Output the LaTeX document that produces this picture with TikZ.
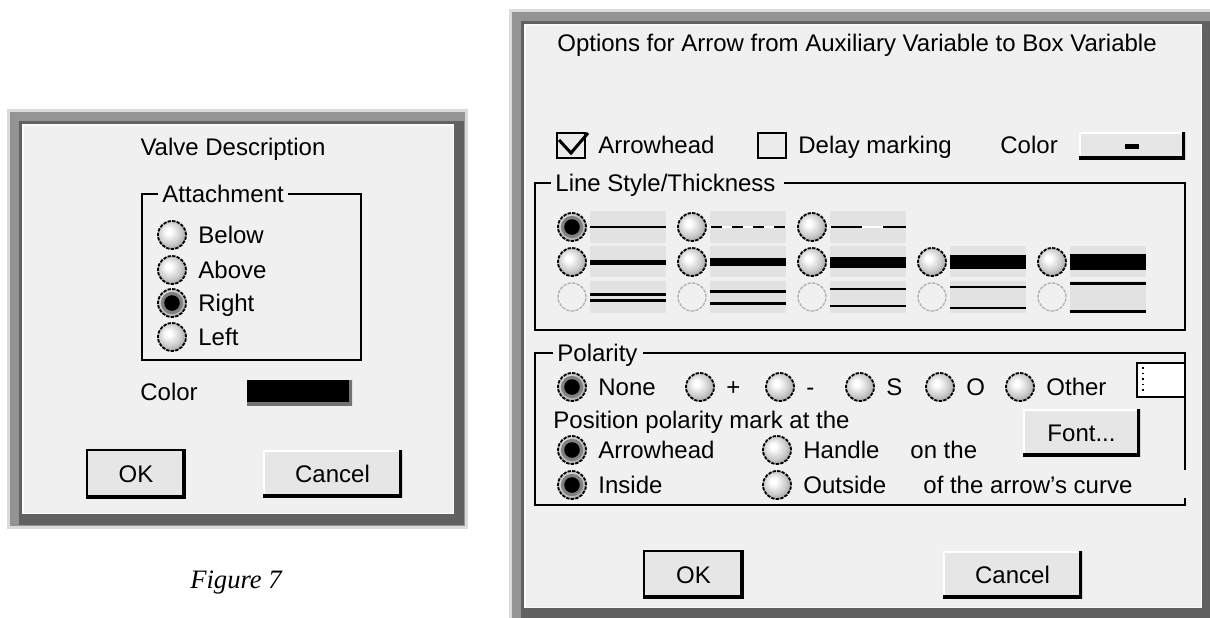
\documentclass[tikz,border=0pt]{standalone}
\usepackage{fontspec}
\setmainfont{Liberation Sans}
\newfontfamily\figfont{Liberation Serif}
\usetikzlibrary{calc,shadings}

\definecolor{dlgbg}{HTML}{F0F0F0}
\definecolor{swatchbg}{HTML}{E2E2E2}
\definecolor{btnbg}{HTML}{E6E6E6}

% light radio knob, brightest at the upper left
\pgfdeclareradialshading{radioknob}{\pgfpoint{-7bp}{7bp}}{color(0bp)=(white); color(5bp)=(white); color(20bp)=(black!20); color(32bp)=(black!42); color(50bp)=(black!42)}

% dialog window: light face inside a soft grey frame
\def\dialog(#1,#2)(#3,#4){%
	\fill[black!14] (#1-3,#2-3) rectangle (#3+3,#4+3);
	\fill[black!42] (#1,#2) rectangle (#3,#4);
	\fill[black!62] (#1+9,#2+9) rectangle (#3-1,#4-1);
	\fill[white!70!dlgbg] (#1+12,#2+12) rectangle (#3-11,#4-12);
	\fill[dlgbg] (#1+14,#2+14) rectangle (#3-12,#4-13);}

% radio button with its label on the right
\def\radiobtn(#1,#2)#3#4#5{%
	\node[#4] (r#3) at (#1,#2) {};
	\node[lbl] (t#3) at (#1+26,#2) {#5};}

\tikzset{
	txt/.style={inner sep=0pt, text height=8.6pt, text depth=0pt, font=\fontsize{12}{14}\selectfont},
	lbl/.style={txt, anchor=west},
	grp/.style={line width=1pt, black},
	radio/.style={circle, inner sep=0pt, minimum size=14pt, shading=radioknob, draw=black, line width=0.9pt, dash pattern=on 1.7pt off 0.6pt},
	radioon/.style={radio, path picture={
		\fill[black!50] (path picture bounding box.center) circle (5.6pt);
		\fill[black] (path picture bounding box.center) circle (3.9pt);}},
	radiodim/.style={circle, inner sep=0pt, minimum size=14pt, fill=black!6, draw=black!30, line width=0.7pt, dash pattern=on 1.7pt off 0.6pt},
	btn/.style={txt, rectangle, fill=btnbg, path picture={
		\draw[white, line width=2pt] (path picture bounding box.south west) -- (path picture bounding box.north west) -- (path picture bounding box.north east);
		\draw[black, line width=3pt] (path picture bounding box.south west) -- (path picture bounding box.south east) -- (path picture bounding box.north east);}},
	okbtn/.style={txt, rectangle, fill=btnbg, draw=black, line width=1.2pt, path picture={
		\draw[black, line width=3.2pt] (path picture bounding box.south west) -- (path picture bounding box.south east) -- (path picture bounding box.north east);}},
	swatch/.style={rectangle, inner sep=0pt, fill=black, path picture={
		\draw[black!55, line width=3pt] (path picture bounding box.south west) -- (path picture bounding box.south east) -- (path picture bounding box.north east);}},
	chkbox/.style={rectangle, inner sep=0pt, minimum width=14pt, minimum height=12.5pt, fill=black!8, draw=black, line width=1pt},
}

\begin{document}
\begin{tikzpicture}[x=0.5pt, y=-0.5pt]
	%%%%% START %%%%%
	\useasboundingbox (0,0) rectangle (1210,617);
	\fill[white] (0,0) rectangle (1210,617);
	
	% valve dialog
	\dialog(10,112)(465,526)
	\node[txt] (valvetitle) at (233,147) {Valve Description};
	\draw[grp] (158,194) -- (142,194) -- (142,360) -- (361,360) -- (361,194) -- (288,194);
	\node[lbl] (attach) at (162,194) {Attachment};
	\radiobtn(172,235){below}{radio}{Below}
	\radiobtn(172,270){above}{radio}{Above}
	\radiobtn(172,303){right}{radioon}{Right}
	\radiobtn(172,337){left}{radio}{Left}
	\node[lbl] (valvecolor) at (140,392) {Color};
	\node[swatch, minimum width=52.5pt, minimum height=12.5pt] (valveswatch) at (299.5,392.5) {};
	\node[okbtn, minimum width=49pt, minimum height=24pt] (valveok) at (136,474) {OK};
	\node[btn, minimum width=69.5pt, minimum height=23.5pt] (valvecancel) at (332.5,473.5) {Cancel};
	\node[inner sep=0pt, font=\figfont\itshape\fontsize{13.3}{16}\selectfont] (figlabel) at (236,583) {Figure 7};
	
	% arrow options dialog
	\dialog(512,12)(1213,620)
	\node[txt] (arrowtitle) at (857,43) {Options for Arrow from Auxiliary Variable to Box Variable};
	\node[chkbox] (headchk) at (571,145) {};
	\draw[line width=1.5pt] ($(headchk)+(-12,-5)$) -- ($(headchk)+(0,8)$) -- ($(headchk)+(17,-12)$);
	\node[lbl] (headtxt) at (598,145) {Arrowhead};
	\node[chkbox] (delaychk) at (772,145) {};
	\node[lbl] (delaytxt) at (798,145) {Delay marking};
	\node[lbl] (arrowcolor) at (1000,145) {Color};
	\node[btn, minimum width=53pt, minimum height=13.5pt] (colorbtn) at (1132,145.5) {};
	\fill ($(colorbtn)+(-7,-2)$) rectangle ($(colorbtn)+(7,3)$);
	
	% line style / thickness
	\draw[grp] (551,183) -- (535,183) -- (535,330) -- (1185,330) -- (1185,183) -- (784,183);
	\node[lbl] (styletitle) at (555,183) {Line Style/Thickness};
	\foreach \c in {0,...,4}{
		\fill[swatchbg] (590+120*\c,246) rectangle ++(76,31);
		\fill[swatchbg] (590+120*\c,281) rectangle ++(76,32);
	}
	\foreach \c in {0,1,2}
		\fill[swatchbg] (590+120*\c,211) rectangle ++(76,32);
	\draw[line width=1.2pt] (590,227) -- ++(76,0);
	\draw[white, line width=1.2pt] (710,227) -- ++(76,0);
	\draw[line width=1.2pt, dash pattern=on 5.5pt off 5pt] (711,227) -- ++(75,0);
	\draw[white, line width=1.2pt] (830,227) -- ++(76,0);
	\draw[line width=1.2pt, dash pattern=on 15.5pt off 10.5pt] (831,227) -- ++(75,0);
	\foreach \c/\w in {0/2.5pt,1/4pt,2/5.5pt,3/7pt,4/8pt}
		\draw[line width=\w] (590+120*\c,262) -- ++(76,0);
	\foreach \c/\g in {0/3,1/6,2/8.5,3/10.5,4/14}{
		\draw[line width=1.1pt] (590+120*\c,297.5-\g) -- ++(76,0);
		\draw[line width=1.1pt] (590+120*\c,297.5+\g) -- ++(76,0);
	}
	\node[radioon] (ls1-0) at (572,227) {};
	\foreach \c in {1,2}
		\node[radio] (ls1-\c) at (572+120*\c,227) {};
	\foreach \c in {0,...,4}{
		\node[radio] (ls2-\c) at (572+120*\c,262) {};
		\node[radiodim] (ls3-\c) at (572+120*\c,297) {};
	}
	
	% polarity
	\draw[grp] (553,353) -- (535,353) -- (535,505) -- (1185,505) -- (1185,498);
	\draw[grp] (643,353) -- (1185,353) -- (1185,470);
	\node[lbl] (poltitle) at (557,353) {Polarity};
	\radiobtn(572,387){none}{radioon}{None}
	\radiobtn(700,387){plus}{radio}{+}
	\radiobtn(780,387){minus}{radio}{-}
	\radiobtn(860,387){same}{radio}{S}
	\radiobtn(940,387){opp}{radio}{O}
	\radiobtn(1020,387){other}{radio}{Other}
	\node[rectangle, fill=white, draw=black, line width=1pt, minimum width=24pt, minimum height=17pt] (otherfield) at (1161,380) {};
	\draw[dotted, line width=0.8pt] (1143,367) -- (1143,393);
	\node[lbl] (postxt) at (553,420) {Position polarity mark at the};
	\radiobtn(572,450){head}{radioon}{Arrowhead}
	\radiobtn(777,450){handle}{radio}{Handle}
	\node[lbl] (onthe) at (910,450) {on the};
	\radiobtn(572,485){inside}{radioon}{Inside}
	\radiobtn(777,485){outside}{radio}{Outside}
	\node[lbl] (ofcurve) at (923,485) {of the arrow's curve};
	\node[btn, minimum width=58.5pt, minimum height=23.5pt] (fontbtn) at (1081.5,432.5) {Font...};
	
	\node[okbtn, minimum width=49.5pt, minimum height=23.5pt] (arrowok) at (693.5,574.5) {OK};
	\node[btn, minimum width=69.5pt, minimum height=23.5pt] (arrowcancel) at (1012.5,574.5) {Cancel};
	
	%%%%% END %%%%%
\end{tikzpicture}
\end{document}
